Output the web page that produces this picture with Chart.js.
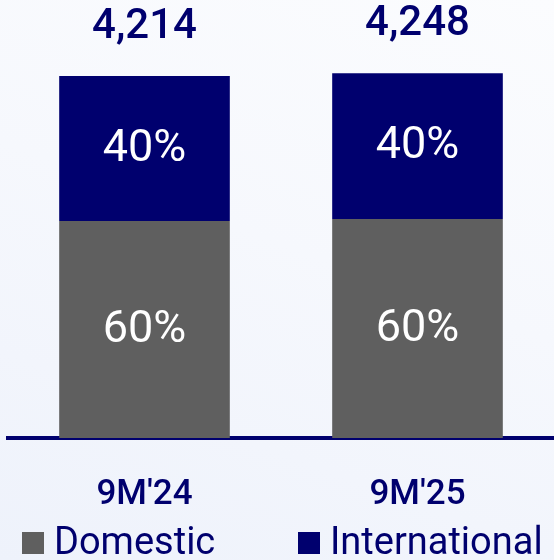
<!DOCTYPE html>
<html>
<head>
<meta charset="utf-8">
<script src="https://cdn.jsdelivr.net/npm/chart.js@4.4.0/dist/chart.umd.min.js"></script>
<style>
  html, body { margin: 0; padding: 0; }
  body {
    width: 554px;
    height: 560px;
    background: linear-gradient(20deg, #eef2fb 0%, #f6f8fd 55%, #fbfcfe 100%);
    overflow: hidden;
  }
  #wrap { width: 554px; height: 560px; }
</style>
</head>
<body>
<div id="wrap"><canvas id="bar-chart"></canvas></div>
<script>
// Data
var periods = ["9M'24", "9M'25"];
var domestic = [2528, 2549];
var international = [1686, 1699];

var navy = "#00006e";
var grey = "#5f5f5f";

// Labels inside segments (share of total) and totals above the stack
var labelPlugin = {
  id: "barLabels",
  afterDatasetsDraw: function (chart) {
    var ctx = chart.ctx;
    ctx.save();
    ctx.textAlign = "center";
    ctx.textBaseline = "middle";

    chart.data.datasets.forEach(function (ds, di) {
      var meta = chart.getDatasetMeta(di);
      meta.data.forEach(function (bar, i) {
        var total = domestic[i] + international[i];
        var pct = Math.round((ds.data[i] / total) * 100) + "%";
        var mid = (bar.y + bar.base) / 2;
        ctx.fillStyle = "#ffffff";
        ctx.font = "400 45px Roboto";
        ctx.fillText(pct, bar.x, mid + 1);
      });
    });

    var topMeta = chart.getDatasetMeta(1);
    topMeta.data.forEach(function (bar, i) {
      var total = domestic[i] + international[i];
      ctx.fillStyle = navy;
      ctx.font = "500 42px Roboto";
      ctx.fillText(total.toLocaleString("en-US"), bar.x, bar.y - 49);
    });
    ctx.restore();
  },
};

// Legend drawn by hand so box/text spacing matches
var legendPlugin = {
  id: "customLegend",
  afterDraw: function (chart) {
    var ctx = chart.ctx;
    var starts = [chart.chartArea.left + 14, chart.width / 2 + 21];
    var y = chart.height - 17;
    ctx.save();
    ctx.textAlign = "left";
    ctx.textBaseline = "middle";
    ctx.font = "400 38px Roboto";
    chart.data.datasets.forEach(function (ds, di) {
      var x = starts[di];
      ctx.fillStyle = ds.backgroundColor;
      ctx.fillRect(x, y - 11, 22, 22);
      ctx.fillStyle = navy;
      ctx.fillText(ds.label, x + 32, y + 1);
    });
    ctx.restore();
  },
};

var barOptions = {
  categoryPercentage: 1,
  barPercentage: 0.625,
};

new Chart(document.getElementById("bar-chart").getContext("2d"), {
  type: "bar",
  data: {
    labels: periods,
    datasets: [
      {
        label: "Domestic",
        data: domestic,
        ...barOptions,
        backgroundColor: grey,
      },
      {
        label: "International",
        data: international,
        ...barOptions,
        backgroundColor: navy,
      },
    ],
  },
  plugins: [labelPlugin, legendPlugin],
  options: {
    responsive: true,
    maintainAspectRatio: false,
    animation: false,
    layout: {
      padding: { left: 8, right: 0, top: 0, bottom: 16 },
    },
    plugins: {
      legend: { display: false },
      tooltip: { enabled: false },
    },
    scales: {
      x: {
        stacked: true,
        grid: { display: false },
        border: { display: true, color: navy, width: 4 },
        ticks: {
          color: navy,
          padding: 28,
          font: { family: "Roboto", size: 35, weight: "500" },
        },
      },
      y: {
        stacked: true,
        display: false,
        min: 0,
        max: 5100,
      },
    },
  },
});
</script>
</body>
</html>
